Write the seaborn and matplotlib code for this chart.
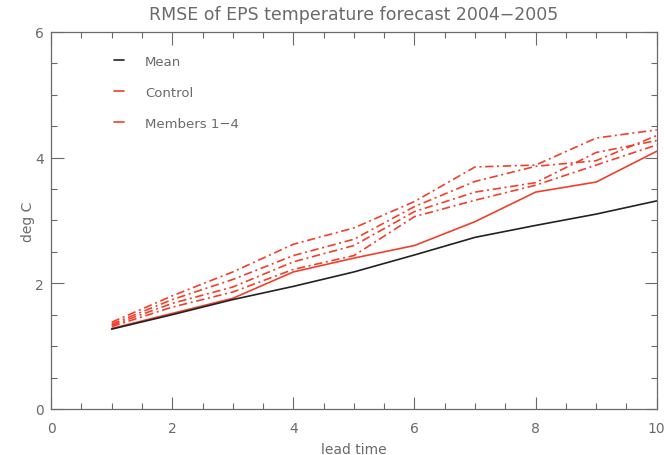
import matplotlib
matplotlib.use("Agg")
import matplotlib.pyplot as plt
import seaborn as sns
from matplotlib.ticker import MultipleLocator

lead_time = [1, 2, 3, 4, 5, 6, 7, 8, 9, 10]
mean_rmse = [1.27, 1.50, 1.74, 1.95, 2.18, 2.45, 2.73, 2.92, 3.10, 3.31]
control_rmse = [1.28, 1.52, 1.76, 2.18, 2.40, 2.60, 2.98, 3.45, 3.61, 4.10]
member1 = [1.38, 1.80, 2.18, 2.62, 2.88, 3.30, 3.85, 3.88, 4.31, 4.44]
member2 = [1.35, 1.74, 2.06, 2.44, 2.70, 3.22, 3.62, 3.86, 3.95, 4.35]
member3 = [1.33, 1.68, 1.94, 2.34, 2.60, 3.14, 3.45, 3.60, 4.08, 4.27]
member4 = [1.31, 1.62, 1.86, 2.22, 2.44, 3.06, 3.32, 3.56, 3.88, 4.20]
legend_labels = ["Mean", "Control", "Members 1\u22124"]

sns.set_theme(style="ticks")
plt.rcParams["font.family"] = ["DejaVu Sans"]

grey = "#6a6a6a"
red = "#f0402c"

fig = plt.figure(figsize=(6.64, 4.56), dpi=100)
ax = fig.add_axes([0.077, 0.101, 0.912, 0.827])

for m in [member1, member2, member3, member4]:
    sns.lineplot(x=lead_time, y=m, ax=ax, color=red, lw=1.2,
                 linestyle=(0, (5, 2.2, 1.2, 2.2)), legend=False)
sns.lineplot(x=lead_time, y=control_rmse, ax=ax, color=red, lw=1.2, legend=False)
sns.lineplot(x=lead_time, y=mean_rmse, ax=ax, color="#222222", lw=1.2, legend=False)

ax.set_xlim(0, 10)
ax.set_ylim(0, 6)
ax.xaxis.set_major_locator(MultipleLocator(2))
ax.xaxis.set_minor_locator(MultipleLocator(0.5))
ax.yaxis.set_major_locator(MultipleLocator(2))
ax.yaxis.set_minor_locator(MultipleLocator(0.5))
ax.tick_params(which="both", direction="in", top=True, right=True,
               color=grey, labelcolor=grey, labelsize=10, width=0.8)
ax.tick_params(which="major", length=9)
ax.tick_params(which="minor", length=4)
ax.tick_params(axis="x", which="major", pad=9)
ax.tick_params(axis="y", which="major", pad=5)
for s in ax.spines.values():
    s.set_color(grey)
    s.set_linewidth(0.9)

ax.set_xlabel("lead time", color=grey, fontsize=10, labelpad=5)
ax.set_ylabel("deg C", color=grey, fontsize=10, labelpad=0)
ax.set_title("RMSE of EPS temperature forecast 2004\u22122005", color=grey,
             fontsize=12.5, pad=9)

handles = [plt.Line2D([], [], color="#222222", lw=1.2),
           plt.Line2D([], [], color=red, lw=1.2),
           plt.Line2D([], [], color=red, lw=1.2)]
leg = ax.legend(handles, legend_labels, loc="upper left", bbox_to_anchor=(0.085, 0.97),
                frameon=False, handlelength=0.7, handletextpad=1.6,
                labelspacing=1.35, fontsize=9.5)
for t in leg.get_texts():
    t.set_color(grey)

fig.savefig("out.png", dpi=100)
